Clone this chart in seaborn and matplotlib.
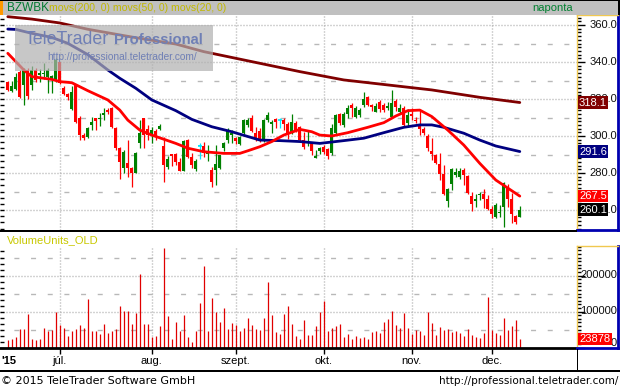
import matplotlib
matplotlib.use("Agg")
import matplotlib.pyplot as plt
import matplotlib.transforms as mtrans
from matplotlib.patches import Rectangle
from matplotlib.ticker import MultipleLocator, FixedLocator
import seaborn as sns
import pandas as pd

sns.set_style("white")
plt.rcParams['font.family'] = ['Liberation Sans', 'DejaVu Sans']

# ---------------- data ----------------
opens = [329.4, 324.5, 325.4, 334.8, 327.6, 335.7, 327.6, 335.7, 333, 333.5,
         332, 330.5, 330.3, 339.8, 325.8, 322.7, 314.5, 327.6, 310, 300.5,
         299.6, 306, 309.6, 309, 311.4, 314.1, 315, 304.2, 293.4, 282.5,
         285.2, 282.5, 280.2, 296, 309.6, 303.8, 300.5, 302.5, 303.6, 294.6,
         283.4, 290.3, 290.1, 286, 281.2, 297.8, 288.8, 282.2, 294.6, 294.6,
         290.5, 281.6, 281.6, 282.5, 293.4, 297.8, 300.5, 298.8, 295.7, 301.8,
         305.9, 309.9, 301.8, 302.7, 297.8, 308.6, 306.3, 309, 308.6, 308.6,
         306.5, 302, 306.9, 304.7, 297.8, 296, 296, 288.3, 292, 294.2,
         292.8, 290.6, 301.4, 311.7, 305.9, 311.9, 316.8, 310.5, 311.4, 316.8,
         320.9, 316.8, 313.1, 318.6, 316.8, 315, 310.5, 319.1, 313.1, 315,
         306.9, 311.8, 308.8, 305.9, 303.6, 300, 292, 289.7, 284.9, 279.5,
         265, 274.1, 278.9, 278, 281.6, 278.4, 267.6, 265, 268.3, 268.6,
         265.9, 260.5, 256.4, 258.5, 261.8, 271.7, 266, 256.8, 256.4]
highs = [330, 330, 334, 335.5, 337, 337, 338, 337, 336, 339.6,
         337, 333, 342, 340, 327, 323.5, 327, 328, 311, 301.5,
         305, 310.5, 310, 312.4, 315, 315.4, 315.5, 305, 294, 292.5,
         297.8, 283, 291.5, 308.6, 310, 306, 304.7, 304, 306.5, 299.6,
         289, 290.5, 291, 288, 298, 298.5, 291, 287.5, 296, 296.5,
         295, 283.4, 295, 290, 296.5, 304.3, 303, 299.6, 300, 309,
         309.5, 311.4, 305, 304.3, 309, 312.8, 308.6, 310, 309.5, 310,
         307.5, 311.7, 308, 305.5, 302, 302.5, 297, 292.4, 293.8, 295,
         293.5, 306.3, 312, 312.2, 313, 316.8, 318, 316, 315.3, 324,
         321.6, 317.5, 318, 319.5, 318, 318.6, 324.9, 320, 317.5, 316,
         314.4, 315, 310.3, 314, 305, 301, 298.8, 290.5, 290.6, 284.3,
         272, 282.9, 282.9, 282.9, 282.5, 279, 270, 268.6, 269.5, 271.2,
         268, 262, 263.6, 262.7, 275.3, 274, 269, 257.5, 262.3]
lows = [324.5, 324, 325, 320.4, 317, 320, 325, 329, 329, 331,
        323, 323, 329, 328, 322, 319.5, 314, 307, 297.8, 297.8,
        299, 303, 303.2, 305.4, 308.6, 312, 304.5, 292.5, 277, 279.8,
        278, 272.3, 280, 293.4, 293.7, 298, 296, 298, 303, 275.3,
        282, 284, 284.5, 281, 281, 288, 282.6, 281, 287.4, 288.5,
        286.5, 272.6, 273.5, 282, 291.8, 296, 296, 295.5, 295, 301,
        305, 302, 297.5, 296.5, 297, 307.4, 301.4, 304.2, 304.2, 303.2,
        298.3, 301, 302, 297, 293, 294.5, 289.7, 288, 290.5, 290.5,
        287.5, 289.7, 300.5, 306, 305, 310, 310.5, 310, 310.5, 315.5,
        316, 313.7, 313, 313, 313, 313.8, 310, 313.7, 312.3, 305.5,
        305, 308.6, 306.9, 300.5, 300.5, 292, 287, 285, 276.2, 268,
        261.5, 270.8, 278, 277, 273.5, 268.5, 259.6, 261.8, 265.5, 261.3,
        260, 255.5, 255.8, 256.4, 251, 261.5, 253.1, 252.4, 256]
closes = [325, 327.2, 332, 321.2, 335.7, 321.6, 335.7, 330.3, 334, 334,
          335.7, 332.5, 341, 328.5, 322.7, 320.9, 324, 307.7, 300.5, 299,
          304.3, 307.7, 308.3, 310, 312.3, 313, 305, 293.4, 286, 291.5,
          282.9, 279.8, 290.6, 301.4, 300.5, 300.5, 303, 300.5, 305.4, 284.3,
          287.4, 289, 286.1, 281.2, 297.5, 288.8, 284.3, 286.7, 294.6, 291,
          291.3, 275.3, 285.1, 289.7, 296, 303.2, 301.5, 297.5, 299.6, 308.6,
          308.6, 302.7, 298.8, 297.8, 308.6, 311.4, 307.7, 307.7, 308.6, 306.5,
          301.4, 307.4, 303.2, 297.8, 294.2, 297, 292, 289, 293.4, 291.5,
          289.2, 304.5, 311.4, 306.9, 311.7, 315.3, 315, 315.3, 314, 319.8,
          316.8, 315.5, 316.2, 314.5, 314, 316.2, 318, 315.5, 315, 306,
          311.4, 311, 308.2, 303.6, 301.4, 293.4, 290.3, 285.6, 279.5, 268.6,
          271.2, 282, 280.7, 281.2, 278.9, 269, 263, 265.9, 268.8, 265.9,
          260.5, 257.8, 262.7, 259, 274.4, 265.8, 257.7, 253.7, 260.1]
volumes = [20800, 23600, 29200, 51400, 51400, 93100, 23600, 20800, 23600, 54200,
           45800, 48600, 98600, 62500, 54200, 31900, 45800, 51400, 62500, 54200,
           134700, 45800, 45800, 37500, 65300, 40300, 45800, 51400, 115300, 101400,
           101400, 65300, 95800, 204200, 65300, 65300, 29200, 31900, 59700, 276400,
           87500, 23600, 70800, 45800, 90300, 29200, 15300, 45800, 123600, 226400,
           45800, 137500, 98600, 70800, 109700, 51400, 68100, 62500, 45800, 54200,
           81900, 62500, 51400, 48600, 81900, 181900, 90300, 43100, 37500, 93100,
           115300, 65300, 31900, 23600, 76400, 35000, 34700, 59700, 97700, 129200,
           45800, 54200, 59700, 65300, 29200, 37500, 23600, 31900, 26400, 29200,
           23600, 43100, 45800, 40300, 70800, 79200, 101400, 62500, 54200, 95800,
           54200, 37500, 48600, 45800, 34700, 98600, 68100, 34700, 56900, 48600,
           51400, 43100, 45800, 40300, 31900, 51400, 34700, 29200, 26400, 40300,
           140300, 48600, 40300, 34700, 81900, 48600, 59700, 76400, 23878]

ma20_idx = [0, 2, 4, 6, 11, 13, 16, 20, 25, 28, 30, 33, 36, 42, 45, 49, 54, 58, 60,
            63, 66, 69, 73, 76, 78, 81, 85, 90, 94, 97, 100, 103, 106, 110, 114,
            118, 122, 128]
ma20_val = [344.7, 340.2, 335.7, 332.1, 330.6, 329.4, 328.8, 324.5, 319.5, 314,
            308.6, 303.2, 300.5, 296, 293.4, 291.5, 290.6, 290.6, 292, 294.2,
            297, 300.5, 303.6, 302.3, 300.5, 300, 301.8, 304.7, 307.2, 310.8,
            313.7, 314, 310.5, 303.2, 295.1, 285.2, 276.2, 267.5]
ma50_idx = [0, 2, 6, 11, 15, 20, 25, 28, 32, 36, 42, 46, 51, 56, 63, 68, 73, 78,
            84, 89, 94, 99, 103, 106, 109, 114, 118, 122, 128]
ma50_val = [357.8, 357.6, 355.5, 353.3, 350.1, 344, 335.7, 331.2, 325.8, 319.5,
            313.7, 309, 305, 302.3, 297.8, 297.5, 297, 296, 297.5, 298.8, 301.8,
            304.7, 306, 306, 304.7, 301.5, 297.8, 294.6, 291.6]
ma200_idx = [0, 6, 13, 20, 31, 42, 49, 63, 73, 84, 95, 106, 118, 128]
ma200_val = [364.5, 363.2, 361.1, 357.7, 353.5, 349.7, 345.6, 339.3, 334.8,
             330.3, 327.6, 324.9, 320.9, 318.1]

month_idx = [13, 36, 57, 79, 101, 121]
month_labels = ['júl.', 'aug.', 'szept.', 'okt.', 'nov.', 'dec.']
price_ticks = [360, 340, 320, 300, 280, 260]
vol_ticks = [200000, 100000, 0]
vol_tick_labels = ['200000', '100000', '0']

# ---------------- layout ----------------
W, H = 620, 388
fig = plt.figure(figsize=(6.2, 3.88), dpi=100)
fig.patch.set_facecolor('white')


def add_ax(x0, y0, x1, y1, **kw):
    return fig.add_axes([x0 / W, 1 - y1 / H, (x1 - x0) / W, (y1 - y0) / H], **kw)


X0 = 7.8            # pixel of first bar
XLIM = (-X0 / 4, (577 - X0) / 4)
PLIM = (360 - 205 / 1.85, 360 + 10 / 1.85)
VLIM = ((347.5 - 348) / 36 * 1e5, (347.5 - 246) / 36 * 1e5)

ax = add_ax(0, 15, 577, 230)
axv = add_ax(0, 246, 577, 348)
axr = add_ax(577, 15, 618, 230)
axvr = add_ax(577, 246, 618, 348)
canvas = add_ax(0, 0, W, H)
canvas.set_xlim(0, W)
canvas.set_ylim(H, 0)
canvas.axis('off')
canvas.patch.set_visible(False)
canvas.set_zorder(20)

n = len(closes)
idx = list(range(n))
df = pd.DataFrame({'i': idx, 'open': opens, 'high': highs, 'low': lows,
                   'close': closes, 'vol': volumes})

GRID = '#a8a8a8'
DOT = (0, (0.72, 1.44))
DASH = (2, (3.6, 8.4))

for a, lim in ((ax, PLIM), (axv, VLIM)):
    a.set_xlim(*XLIM)
    a.set_ylim(*lim)
    a.set_facecolor('white')
    for s in a.spines.values():
        s.set_visible(False)
    a.set_xticks([])
    a.set_yticks([])
    for m in month_idx:
        a.axvline(m, color=GRID, lw=1, ls=DOT, zorder=0)

# price grid
for v in range(260, 361, 20):
    ax.axhline(v, color=GRID, lw=1, ls=DOT, zorder=0)
for v in range(270, 361, 20):
    ax.axhline(v, color='#b8b8b8', lw=1, ls=DASH, zorder=0)
# volume grid
for v in (100000, 200000):
    axv.axhline(v, color=GRID, lw=1, ls=DOT, zorder=0)
for v in (50000, 150000, 250000):
    axv.axhline(v, color='#b8b8b8', lw=1, ls=DASH, zorder=0)

# left edge ticks
ax.yaxis.set_minor_locator(MultipleLocator(20 / 6))
ax.tick_params(axis='y', which='minor', direction='in', length=3, width=1,
               left=True, color='black')
axv.yaxis.set_minor_locator(MultipleLocator(100000 / 6))
axv.tick_params(axis='y', which='minor', direction='in', length=3, width=1,
                left=True, color='black')

# candles
CYAN = '#00e8ff'
cols = ['#008000' if c > o else ('#ff0000' if c < o else CYAN)
        for o, c in zip(df['open'], df['close'])]
ax.vlines(df['i'], df['low'], df['high'], colors=cols, lw=0.9, zorder=2)
bodies = (df['close'] - df['open']).abs()
base = df[['open', 'close']].min(axis=1)
ax.bar(df['i'], bodies.where(bodies > 0.3, 0.3), bottom=base, width=0.72,
       color=cols, zorder=3, linewidth=0)
for i, o, c in zip(df['i'], df['open'], df['close']):
    if o == c:
        ax.hlines(o, i - 0.45, i + 0.45, colors=CYAN, lw=1.2, zorder=3)

# moving averages
sns.lineplot(x=ma200_idx, y=ma200_val, ax=ax, color='#800000', lw=2.0, zorder=4)
sns.lineplot(x=ma50_idx, y=ma50_val, ax=ax, color='#000080', lw=2.0, zorder=4)
sns.lineplot(x=ma20_idx, y=ma20_val, ax=ax, color='#ff0000', lw=2.0, zorder=4)
ax.set_xlabel('')
ax.set_ylabel('')

# volume bars
axv.vlines(df['i'], 0, df['vol'], colors='#e00000', lw=0.9, zorder=2)
axv.spines['bottom'].set_visible(True)
axv.spines['bottom'].set_linewidth(2)
axv.spines['bottom'].set_color('black')
axv.xaxis.set_major_locator(FixedLocator(month_idx))
axv.tick_params(axis='x', which='major', direction='out', length=4, width=1,
                bottom=True, labelbottom=False, color='black')

# right panels
for a, lim in ((axr, PLIM), (axvr, VLIM)):
    a.set_xlim(0, 1)
    a.set_ylim(*lim)
    a.set_facecolor('white')
    a.set_xticks([])
    a.set_yticks([])
    a.spines['left'].set_color('#f0c850')
    a.spines['top'].set_color('#f0c850')
    a.spines['right'].set_color('#0000b0')
    a.spines['bottom'].set_color('#0000b0')
    a.spines['left'].set_linewidth(1)
    a.spines['top'].set_linewidth(1)
    a.spines['right'].set_linewidth(2)
    a.spines['bottom'].set_linewidth(2)

axr.yaxis.set_major_locator(MultipleLocator(20))
axr.yaxis.set_minor_locator(MultipleLocator(2))
axr.tick_params(axis='y', which='major', direction='in', length=6, width=1,
                left=True, labelleft=False, color='black')
axr.tick_params(axis='y', which='minor', direction='in', length=3, width=1,
                left=True, color='black')
axvr.yaxis.set_major_locator(MultipleLocator(100000))
axvr.yaxis.set_minor_locator(MultipleLocator(10000))
axvr.tick_params(axis='y', which='major', direction='in', length=6, width=1,
                 left=True, labelleft=False, color='black')
axvr.tick_params(axis='y', which='minor', direction='in', length=3, width=1,
                 left=True, color='black')

tr_r = mtrans.blended_transform_factory(axr.transAxes, axr.transData)
for v in price_ticks:
    axr.text(0.975, v, f"{v:.1f}", transform=tr_r, ha='right', va='center',
             fontsize=8, color='#101010', zorder=5)
tr_vr = mtrans.blended_transform_factory(axvr.transAxes, axvr.transData)
for v, lab in zip(vol_ticks, vol_tick_labels):
    yy = v if v > 0 else 12500
    axvr.text(0.975, yy, lab, transform=tr_vr, ha='right', va='center',
              fontsize=8, color='#101010', zorder=5)


def value_box(a, tr, y, text, fc):
    a.text(0.05, y, text, transform=tr, ha='left', va='center', fontsize=8,
           color='white', zorder=6,
           bbox=dict(boxstyle='square,pad=0.12', fc=fc, ec='none'))


value_box(axr, tr_r, ma200_val[-1], f"{ma200_val[-1]:.1f}", '#800000')
value_box(axr, tr_r, ma50_val[-1], f"{ma50_val[-1]:.1f}", '#000080')
value_box(axr, tr_r, ma20_val[-1], f"{ma20_val[-1]:.1f}", '#ff0000')
value_box(axr, tr_r, closes[-1], f"{closes[-1]:.1f}", '#000000')
value_box(axvr, tr_vr, volumes[-1], f"{volumes[-1]}", '#ff0000')

# ---------------- decorations on the canvas ----------------
canvas.add_patch(Rectangle((0, 0), W, 1.2, fc='black', ec='none'))
canvas.add_patch(Rectangle((0, 1.2), 618, 13.8, fc='#c0c0c0', ec='none'))
canvas.add_patch(Rectangle((0, 1.2), 3, 13.8, fc='#ff9900', ec='none'))
canvas.add_patch(Rectangle((618, 0), 2, 15, fc='black', ec='none'))
canvas.text(7, 8.3, 'BZWBK', fontsize=8.5, color='#007a30', va='center', ha='left')
canvas.text(49, 8.3, 'movs(200, 0) movs(50, 0) movs(20, 0)', fontsize=7.6,
            color='#c0b800', va='center', ha='left')
canvas.text(573, 8.3, 'naponta', fontsize=8, color='#008030', va='center', ha='right')

# watermark
canvas.add_patch(Rectangle((15, 25), 198, 46, fc='#b0b0b0', ec='none', alpha=0.7))
canvas.text(25, 40, 'TeleTrader', fontsize=12.8, color='#6f7fb5', va='center', ha='left')
canvas.text(114, 40, 'Professional', fontsize=10.6, color='#6f7fb5', va='center',
            ha='left', fontweight='bold')
canvas.text(47, 57, 'http://professional.teletrader.com/', fontsize=7.3,
            color='#6f7fb5', va='center', ha='left')

# separators
canvas.add_patch(Rectangle((0, 229.5), 577, 2.5, fc='black', ec='none'))
canvas.add_patch(Rectangle((0, 370), W, 2, fc='black', ec='none'))
canvas.add_patch(Rectangle((576.5, 349), 1.5, 22, fc='black', ec='none'))

canvas.text(7, 240, 'VolumeUnits_OLD', fontsize=8, color='#c8c800', va='center', ha='left')

# x labels
tr_x = mtrans.blended_transform_factory(axv.transData, canvas.transData)
canvas.text(1, 361, "'15", fontsize=8, fontweight='bold', color='black',
            va='center', ha='left')
for m, lab in zip(month_idx, month_labels):
    canvas.text(m, 361, lab, transform=tr_x, fontsize=8, color='black',
                va='center', ha='center')

# footer
canvas.text(1, 380.5, '© 2015 TeleTrader Software GmbH', fontsize=8,
            family='DejaVu Sans', color='black', va='center', ha='left')
canvas.text(618, 380.5, 'http://professional.teletrader.com/', fontsize=7.5,
            family='DejaVu Sans', color='black', va='center', ha='right')

fig.savefig('out.png', dpi=100, facecolor='white')
